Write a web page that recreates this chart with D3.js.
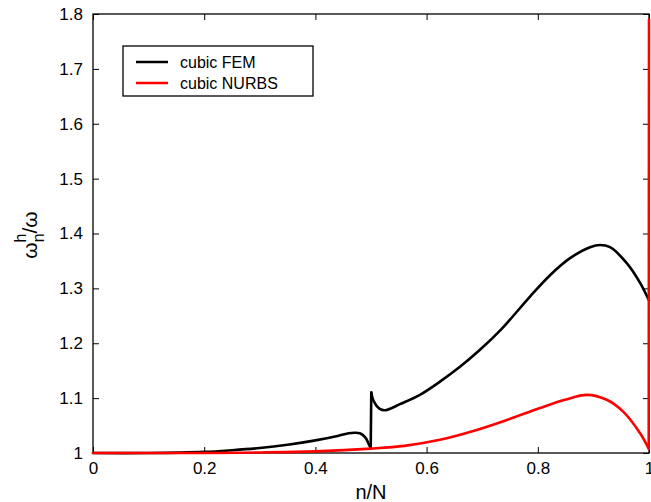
<!DOCTYPE html>
<html><head><meta charset="utf-8">
<script src="https://cdn.jsdelivr.net/npm/d3@7/dist/d3.min.js"></script>
<style>
body{margin:0;background:#fff;}
svg{display:block;font-family:"Liberation Sans",Arial,Helvetica,sans-serif;}
</style></head>
<body><svg id="c" width="651" height="502"></svg>
<script>
const seriesNames = ["cubic FEM", "cubic NURBS"];
const seriesColors = ["#000000", "#ff0000"];
const femX = [0, 0.1, 0.2, 0.25, 0.3, 0.35, 0.4, 0.44, 0.46, 0.47, 0.48, 0.49, 0.497, 0.4995, 0.5005, 0.505, 0.515, 0.526, 0.552, 0.588, 0.624, 0.66, 0.696, 0.732, 0.75, 0.786, 0.822, 0.858, 0.894, 0.912, 0.93, 0.96, 0.984, 1.0];
const femY = [1.0, 1.0, 1.002, 1.005, 1.009, 1.015, 1.023, 1.031, 1.036, 1.037, 1.036, 1.028, 1.014, 1.01, 1.11, 1.094, 1.081, 1.078, 1.089, 1.106, 1.13, 1.157, 1.188, 1.223, 1.243, 1.285, 1.324, 1.355, 1.375, 1.379, 1.375, 1.346, 1.31, 1.278];
const nurbsX = [0, 0.2, 0.3, 0.4, 0.5, 0.56, 0.624, 0.684, 0.744, 0.804, 0.849, 0.888, 0.924, 0.954, 0.984, 0.9995, 1.0];
const nurbsY = [1.0, 1.0, 1.001, 1.003, 1.008, 1.013, 1.024, 1.04, 1.06, 1.082, 1.097, 1.106, 1.097, 1.075, 1.036, 1.008, 1.79];
const xTicks = [0, 0.2, 0.4, 0.6, 0.8, 1];
const yTicks = [1, 1.1, 1.2, 1.3, 1.4, 1.5, 1.6, 1.7, 1.8];

const L = 93, R = 649, T = 14, B = 453;
const svg = d3.select("#c");
const x = d3.scaleLinear().domain([0, 1]).range([L, R]);
const y = d3.scaleLinear().domain([1, 1.8]).range([B, T]);

const fmt = d => (d === 0 || d === 1) ? String(d) : d3.format(".1f")(d);

const gx = svg.append("g").attr("transform", `translate(0,${B})`)
  .call(d3.axisBottom(x).tickValues(xTicks).tickSize(-6).tickPadding(9).tickFormat(fmt));
const gxt = svg.append("g").attr("transform", `translate(0,${T})`)
  .call(d3.axisTop(x).tickValues(xTicks).tickSize(-6).tickFormat(""));
const gy = svg.append("g").attr("transform", `translate(${L},0)`)
  .call(d3.axisLeft(y).tickValues(yTicks).tickSize(-6).tickPadding(10).tickFormat(fmt));
const gyr = svg.append("g").attr("transform", `translate(${R},0)`)
  .call(d3.axisRight(y).tickValues(yTicks).tickSize(-6).tickFormat(""));
[gx, gxt, gy, gyr].forEach(g => {
  g.select(".domain").remove();
  g.selectAll("line").attr("stroke", "#000").attr("stroke-width", 1);
  g.selectAll("text").attr("font-size", 17).attr("fill", "#000")
   .attr("font-family", "'Liberation Sans',Arial,sans-serif");
});

svg.append("rect").attr("x", L).attr("y", T).attr("width", R - L).attr("height", B - T)
  .attr("fill", "none").attr("stroke", "#000").attr("stroke-width", 1.3);

const curve = d3.line().x(d => x(d[0])).y(d => y(d[1])).curve(d3.curveCatmullRom.alpha(0.5));
const straight = d3.line().x(d => x(d[0])).y(d => y(d[1]));

function drawSeries(xs, ys, color) {
  const pts = xs.map((v, i) => [v, ys[i]]);
  const runs = [[pts[0]]];
  for (let i = 1; i < pts.length; i++) {
    if (pts[i][0] - pts[i - 1][0] < 0.002) {
      svg.append("path").attr("d", straight([pts[i - 1], pts[i]])).attr("fill", "none")
        .attr("stroke", color).attr("stroke-width", 2.6).attr("stroke-linecap", "round");
      runs.push([pts[i]]);
    } else runs[runs.length - 1].push(pts[i]);
  }
  runs.filter(r => r.length > 1).forEach(r => {
    svg.append("path").attr("d", curve(r)).attr("fill", "none")
      .attr("stroke", color).attr("stroke-width", 2.6).attr("stroke-linejoin", "round")
      .attr("stroke-linecap", "round");
  });
}
drawSeries(femX, femY, seriesColors[0]);
drawSeries(nurbsX, nurbsY, seriesColors[1]);

svg.append("text").attr("x", (L + R) / 2).attr("y", 499).attr("text-anchor", "middle")
  .attr("font-size", 20).text("n/N");
const yl = svg.append("text").attr("transform", "translate(37,235) rotate(-90)")
  .attr("text-anchor", "middle").attr("font-size", 21);
yl.append("tspan").text("ω");
yl.append("tspan").attr("font-size", 16).attr("dy", 7).text("n");
yl.append("tspan").attr("font-size", 16).attr("dx", -9).attr("dy", -18).text("h");
yl.append("tspan").attr("dy", 11).text("/ω");

const lg = svg.append("g");
lg.append("rect").attr("x", 123).attr("y", 46).attr("width", 190).attr("height", 50)
  .attr("fill", "#fff").attr("stroke", "#000").attr("stroke-width", 1.3);
seriesNames.forEach((n, i) => {
  const yy = 62 + i * 21;
  lg.append("line").attr("x1", 136).attr("x2", 168).attr("y1", yy).attr("y2", yy)
    .attr("stroke", seriesColors[i]).attr("stroke-width", 2.5);
  lg.append("text").attr("x", 180).attr("y", yy + 6).attr("font-size", 16).text(n);
});
</script></body></html>
